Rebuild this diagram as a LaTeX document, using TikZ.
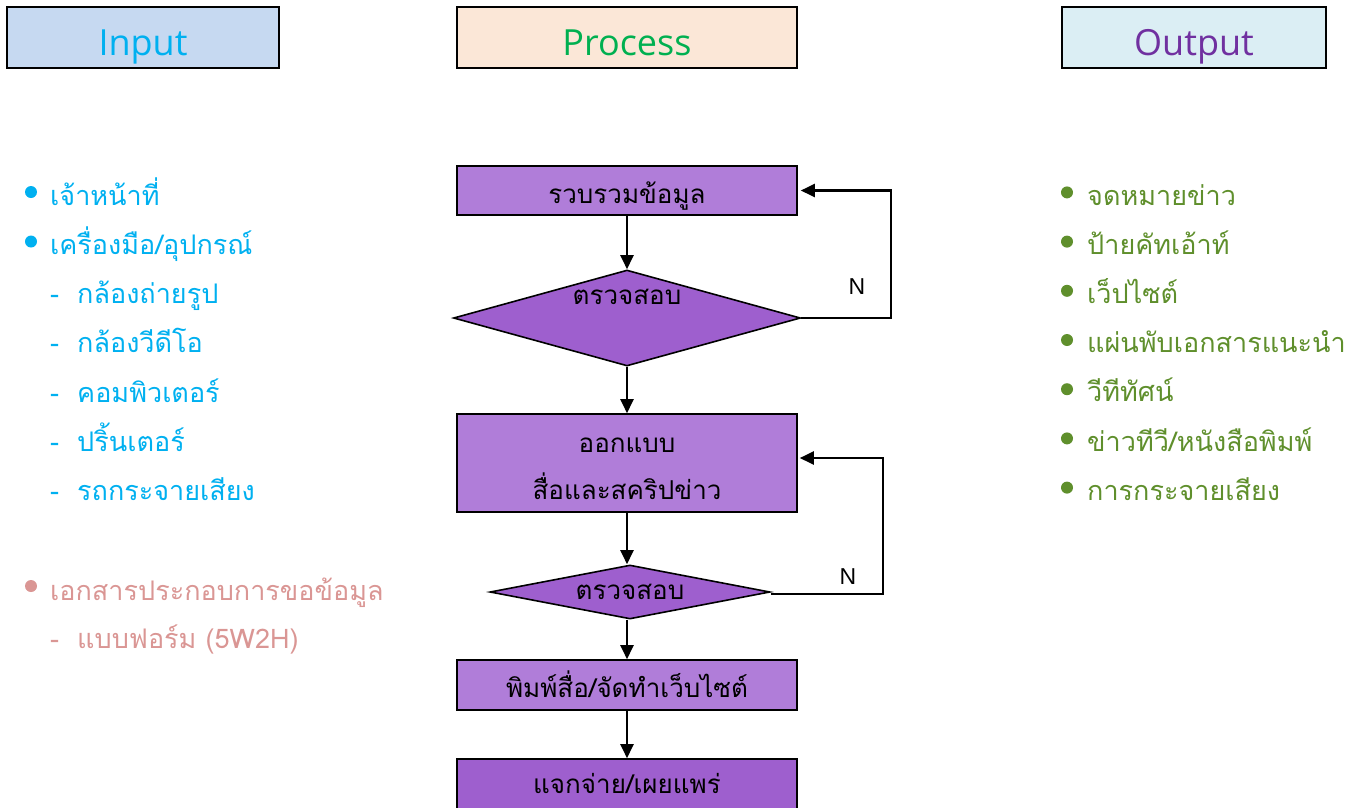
\documentclass[tikz,border=0pt]{standalone}
\usepackage{fontspec}
\setmainfont{Open Sans}
\newfontfamily\thaifont[Script=Thai]{Loma}
\newfontfamily\nfont{Liberation Sans}
\usetikzlibrary{shapes.geometric, arrows.meta, positioning}

\definecolor{inblue}{HTML}{00B0F0}
\definecolor{inpink}{HTML}{DA9694}
\definecolor{outgreen}{HTML}{5F8F2C}
\definecolor{procgreen}{HTML}{00B050}
\definecolor{outpurple}{HTML}{7030A0}
\definecolor{inbg}{HTML}{C6D9F1}
\definecolor{procbg}{HTML}{FBE7D7}
\definecolor{outbg}{HTML}{DBEEF4}
\definecolor{lilac}{HTML}{B07DD9}
\definecolor{plum}{HTML}{9E5FCE}

\begin{document}
\begin{tikzpicture}[x=1pt, y=-1pt,
  head/.style={draw, line width=1.6pt, minimum height=61pt, inner sep=0pt,
    text height=35pt, text depth=0pt, font=\fontsize{36}{40}\selectfont},
  proc/.style={draw, line width=1.6pt, fill=lilac, minimum width=340pt,
    inner sep=0pt, align=center, text height=25pt, text depth=0pt,
    font=\thaifont\fontsize{26}{47}\selectfont},
  check/.style={diamond, draw, line width=1.6pt, fill=plum, inner sep=0pt,
    aspect=5, font=\thaifont\fontsize{26}{30}\selectfont},
  flow/.style={-{Triangle[length=14pt, width=13pt]}, line width=2.2pt},
  item/.style={anchor=base west, inner sep=0pt,
    font=\thaifont\fontsize{27}{30}\selectfont},
  bullet/.style={circle, inner sep=0pt, minimum size=12pt}]

  \clip (0,0) rectangle (1354,807);

  % headers
  \node[head, fill=inbg, text=inblue, minimum width=272pt] (input) at (143,37.5) {Input};
  \node[head, fill=procbg, text=procgreen, minimum width=340pt] (process) at (627,37.5) {Process};
  \node[head, fill=outbg, text=outpurple, minimum width=264pt] (output) at (1194,37.5) {Output};

  % process flow
  \node[proc, minimum height=49pt] (collect) at (627,190.5) {รวบรวมข้อมูล};
  \node[check, minimum width=347pt, minimum height=96pt] (check1) at (627,318) {};
  \node[check, draw=none, fill=none] (check1txt) at (627,297) {ตรวจสอบ};
  \node[proc, minimum height=98pt, text height=72pt] (design) at (627,463) {ออกแบบ\\สื่อและสคริปข่าว};
  \node[check, minimum width=280pt, minimum height=54pt] (check2) at (630,592) {ตรวจสอบ};
  \node[proc, minimum height=50pt] (print) at (627,685) {พิมพ์สื่อ/จัดทำเว็บไซต์};
  \node[proc, minimum height=52pt, text depth=9pt, fill=plum] (spread) at (627,785) {แจกจ่าย/เผยแพร่};

  \coordinate (loop1) at (891,318);
  \coordinate (loop2) at (883,594);
  \node[font=\nfont\fontsize{23}{26}\selectfont] (n1) at (857,287) {N};
  \node[font=\nfont\fontsize{23}{26}\selectfont] (n2) at (848,577) {N};

  \draw[flow] (collect) -- (check1);
  \draw[flow] (check1) -- (design);
  \draw[flow] (design.south) -- (design.south |- check2.north);
  \draw[flow] (check2.south -| print.north) -- (print.north);
  \draw[flow] (print) -- (spread);
  \draw[flow] (check1.east) -- (loop1) |- ([xshift=3pt]collect.east);
  \draw[flow] (check2.east |- loop2) -- (loop2) |- ([xshift=2pt, yshift=5pt]design.east);

  % input
  \foreach \txt [count=\i] in {เจ้าหน้าที่, เครื่องมือ/อุปกรณ์} {
    \node[bullet, fill=inblue] (inb\i) at (31,142.5+49.5*\i) {};
    \node[item, text=inblue] (in\i) at (50,155.5+49.5*\i) {\txt};
  }
  \foreach \txt [count=\i] in {กล้องถ่ายรูป, กล้องวีดีโอ, คอมพิวเตอร์, ปริ้นเตอร์, รถกระจายเสียง} {
    \node[item, text=inblue] (tooldash\i) at (50,254.5+49.2*\i) {-};
    \node[item, text=inblue] (tool\i) at (77,254.5+49.2*\i) {\txt};
  }
  \node[bullet, fill=inpink] (docb) at (31,586) {};
  \node[item, text=inpink] (doc) at (50,600) {เอกสารประกอบการขอข้อมูล};
  \node[item, text=inpink] (formdash) at (50,648) {-};
  \node[item, text=inpink] (form) at (77,648) {แบบฟอร์ม (5W2H)};

  % output
  \foreach \txt [count=\i] in {จดหมายข่าว, ป้ายคัทเอ้าท์, เว็ปไซต์, แผ่นพับเอกสารแนะนำ, วีทีทัศน์, ข่าวทีวี/หนังสือพิมพ์, การกระจายเสียง} {
    \node[bullet, fill=outgreen] (outb\i) at (1067,143.2+49.2*\i) {};
    \node[item, text=outgreen] (out\i) at (1087,155.8+49.2*\i) {\txt};
  }
\end{tikzpicture}
\end{document}
